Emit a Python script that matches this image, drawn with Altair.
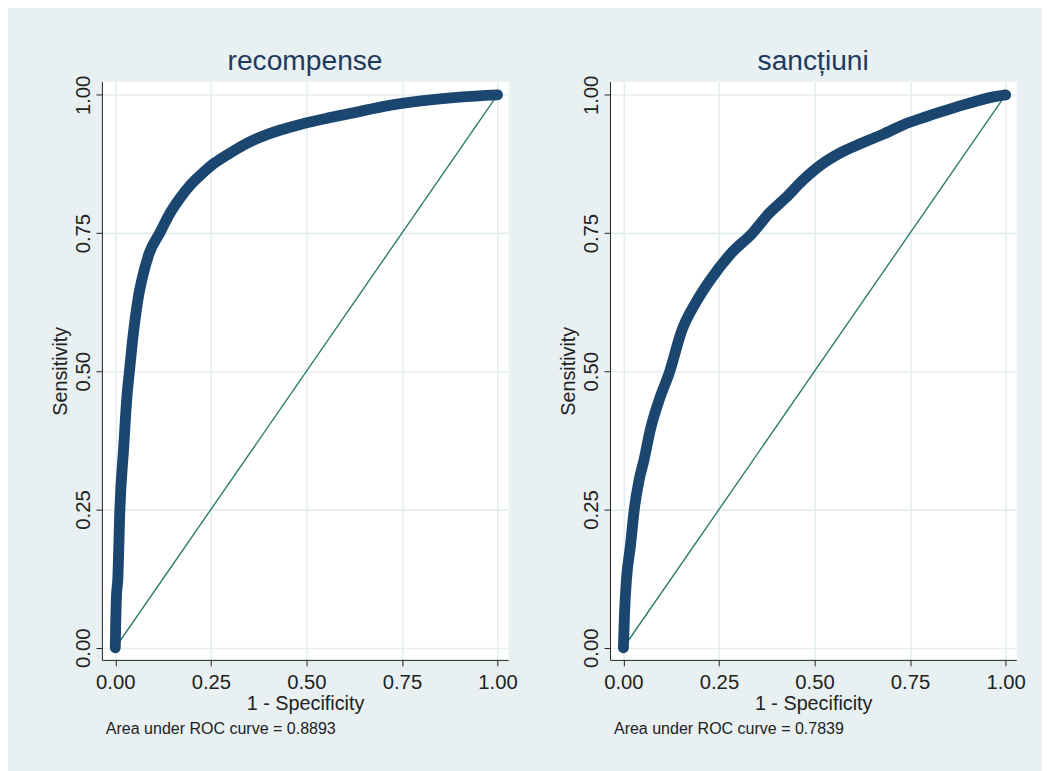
import altair as alt
import pandas as pd

# ---- data ----
titles = ["recompense", "sancțiuni"]
notes = ["Area under ROC curve = 0.8893", "Area under ROC curve = 0.7839"]
tick_values = [0.0, 0.25, 0.5, 0.75, 1.0]

rec_fpr = [0, 0.001, 0.003, 0.0065, 0.012, 0.022, 0.030, 0.037, 0.045, 0.054,
           0.061, 0.069, 0.088, 0.117, 0.143, 0.170, 0.198, 0.226, 0.260, 0.296,
           0.335, 0.374, 0.430, 0.486, 0.555, 0.626, 0.710, 0.800, 0.900, 1.0]
rec_tpr = [0, 0.040, 0.092, 0.123, 0.250, 0.363, 0.450, 0.500, 0.555, 0.605,
           0.637, 0.664, 0.712, 0.751, 0.786, 0.814, 0.838, 0.857, 0.877, 0.893,
           0.909, 0.922, 0.936, 0.947, 0.958, 0.968, 0.980, 0.989, 0.996, 1.0]

san_fpr = [0, 0.003, 0.008, 0.018, 0.029, 0.041, 0.054, 0.070, 0.096, 0.119,
           0.153, 0.190, 0.226, 0.280, 0.339, 0.380, 0.425, 0.470, 0.520, 0.570,
           0.624, 0.680, 0.736, 0.790, 0.839, 0.885, 0.925, 0.965, 1.0]
san_tpr = [0, 0.063, 0.123, 0.182, 0.253, 0.303, 0.340, 0.393, 0.453, 0.495,
           0.574, 0.625, 0.664, 0.712, 0.751, 0.785, 0.814, 0.846, 0.875, 0.896,
           0.913, 0.929, 0.947, 0.960, 0.971, 0.981, 0.989, 0.996, 1.0]

ref_x = [0.0, 1.0]
ref_y = [0.0, 1.0]

FONT = "Liberation Sans"
CURVE = "#1a4670"
REF = "#2e7a6a"
BG = "#e8f0f2"
W, H = 411, 585


def panel(title, note, fpr, tpr):
    df = pd.DataFrame({"fpr": fpr, "tpr": tpr, "order": range(len(fpr))})
    ref = pd.DataFrame({"fpr": ref_x, "tpr": ref_y})
    xs = alt.Scale(domain=[-0.035, 1.028], nice=False, zero=False)
    ys = alt.Scale(domain=[-0.022, 1.024], nice=False, zero=False)
    xax = alt.Axis(values=tick_values, format=".2f", title="1 - Specificity",
                   labelFontSize=20.5, titleFontSize=20, labelPadding=7,
                   titlePadding=1, tickSize=6, labelFlush=False)
    yax = alt.Axis(values=tick_values, format=".2f", title="Sensitivity",
                   labelFontSize=20.5, titleFontSize=20, labelAngle=-90,
                   labelAlign="center", labelBaseline="bottom", labelPadding=3,
                   titlePadding=3, tickSize=6, labelFlush=False)
    curve = alt.Chart(df).mark_line(
        color=CURVE, strokeWidth=11, strokeCap="round", strokeJoin="round",
        interpolate="monotone"
    ).encode(
        x=alt.X("fpr:Q", scale=xs, axis=xax),
        y=alt.Y("tpr:Q", scale=ys, axis=yax),
        order="order:Q",
    )
    diag = alt.Chart(ref).mark_line(color=REF, strokeWidth=1.4).encode(
        x=alt.X("fpr:Q", scale=xs), y=alt.Y("tpr:Q", scale=ys)
    )
    txt = alt.Chart(alt.Data(values=[{"t": note}])).mark_text(
        align="left", baseline="middle", fontSize=16.2, font=FONT, color="#222222"
    ).encode(x=alt.value(4), y=alt.value(H + 70), text="t:N")
    return alt.layer(diag, curve, txt).properties(
        width=W, height=H,
        title=alt.TitleParams(title, fontSize=28.5, font=FONT, fontWeight="normal",
                              color="#1e3a5f", offset=0, anchor="middle"),
    )


chart = alt.hconcat(
    panel(titles[0], notes[0], rec_fpr, rec_tpr),
    panel(titles[1], notes[1], san_fpr, san_tpr),
    spacing=40,
).properties(
    background=BG,
    padding={"left": 42, "top": 34, "right": 16, "bottom": 36},
).configure_view(
    fill="white", stroke="transparent"
).configure_axis(
    domainColor="#222222", tickColor="#222222", labelColor="#222222",
    titleColor="#222222", labelFont=FONT, titleFont=FONT,
    gridColor="#e4eef0", gridWidth=1.6, titleFontWeight="normal",
)

chart.save("out.html", embed_options={"renderer": "svg", "actions": False})
